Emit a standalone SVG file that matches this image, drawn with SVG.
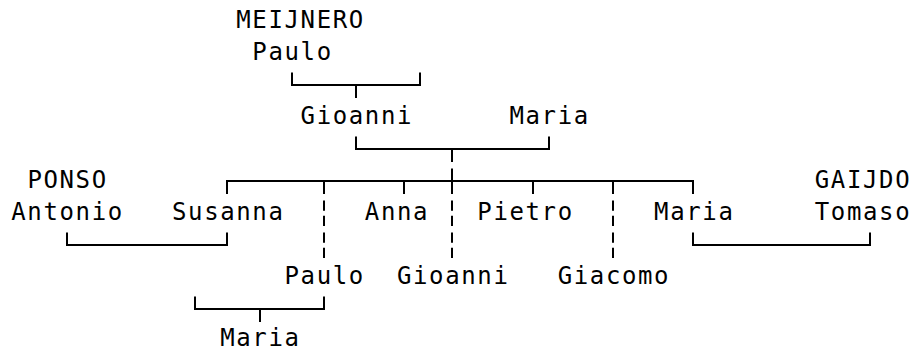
<svg xmlns="http://www.w3.org/2000/svg" width="913" height="352" viewBox="0 0 913 352">
  <style>
    .n text { font-family: "DejaVu Sans Mono", "Liberation Mono", monospace; font-size: 24px; letter-spacing: 1.62px; fill: #000; }
    .c { fill: none; stroke: #000; stroke-width: 2; stroke-linejoin: miter; stroke-linecap: butt; }
    .d { fill: none; stroke: #000; stroke-width: 2; stroke-dasharray: 10.25 5 10.25 6.5; }
  </style>
  <rect width="913" height="352" fill="#fff"/>
  <g id="connectors">
    <path class="c" d="M292 72.5 V85 H420 V72.5"/>
    <path class="c" d="M356 85 V98"/>
    <path class="c" d="M356 136.5 V149 H549 V136.5"/>
    <path class="c" d="M452 149 V162"/>
    <path class="c" d="M227 194 V181 H693 V194"/>
    <path class="c" d="M324 181 V194"/>
    <path class="c" d="M404 181 V194"/>
    <path class="c" d="M452 168.5 V194"/>
    <path class="c" d="M533 181 V194"/>
    <path class="c" d="M613 181 V194"/>
    <path class="d" d="M324 200.5 V258"/>
    <path class="d" d="M452 200.5 V258"/>
    <path class="d" d="M613 200.5 V258"/>
    <path class="c" d="M67 232.5 V245 H227 V232.5"/>
    <path class="c" d="M693 232.5 V245 H870 V232.5"/>
    <path class="c" d="M195 296.5 V309 H324 V296.5"/>
    <path class="c" d="M260 309 V322"/>
  </g>
  <g id="paulo-meijnero" class="n"><text x="236.29" y="28">MEIJNERO</text><text x="252.36" y="60">Paulo</text></g>
  <g id="gioanni" class="n"><text x="300.57" y="124">Gioanni</text></g>
  <g id="maria-mother" class="n"><text x="509.48" y="124">Maria</text></g>
  <g id="antonio-ponso" class="n"><text x="27.38" y="188">PONSO</text><text x="11.31" y="220">Antonio</text></g>
  <g id="susanna" class="n"><text x="172.01" y="220">Susanna</text></g>
  <g id="anna" class="n"><text x="364.85" y="220">Anna</text></g>
  <g id="pietro" class="n"><text x="477.34" y="220">Pietro</text></g>
  <g id="maria-daughter" class="n"><text x="654.11" y="220">Maria</text></g>
  <g id="tomaso-gaijdo" class="n"><text x="814.81" y="188">GAIJDO</text><text x="814.81" y="220">Tomaso</text></g>
  <g id="paulo-son" class="n"><text x="284.50" y="284">Paulo</text></g>
  <g id="gioanni-son" class="n"><text x="396.99" y="284">Gioanni</text></g>
  <g id="giacomo" class="n"><text x="557.69" y="284">Giacomo</text></g>
  <g id="maria-granddaughter" class="n"><text x="220.22" y="346">Maria</text></g>
</svg>
